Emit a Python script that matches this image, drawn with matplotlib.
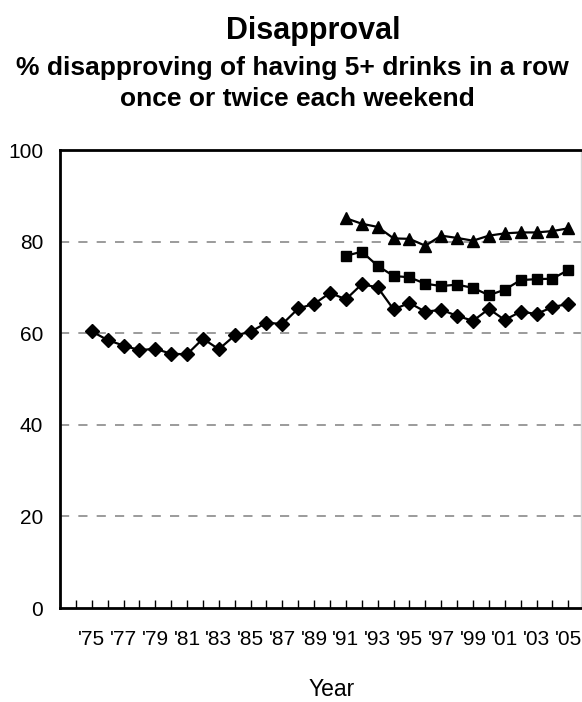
import matplotlib
matplotlib.use('Agg')
import matplotlib.pyplot as plt

plt.rcParams['font.family'] = ['Liberation Sans', 'DejaVu Sans']

years_all = list(range(1975, 2006))
years_late = list(range(1991, 2006))

# diamonds, 1975-2005
diamond_vals = [60.4, 58.5, 57.3, 56.3, 56.6, 55.5, 55.4, 58.8, 56.5, 59.5,
                60.3, 62.3, 62.0, 65.4, 66.4, 68.8, 67.4, 70.7, 70.0, 65.2,
                66.6, 64.7, 65.1, 63.8, 62.7, 65.3, 62.9, 64.7, 64.2, 65.7,
                66.4]
# squares, 1991-2005
square_vals = [76.9, 77.8, 74.7, 72.5, 72.2, 70.8, 70.3, 70.6, 69.9, 68.3,
               69.5, 71.6, 71.8, 71.9, 73.8]
# triangles, 1991-2005
triangle_vals = [85.1, 83.9, 83.2, 80.7, 80.6, 79.1, 81.3, 80.8, 80.2, 81.3,
                 81.8, 82.0, 82.0, 82.3, 82.9]

y_ticks = [0, 20, 40, 60, 80, 100]
label_years = list(range(1975, 2006, 2))

fig = plt.figure(figsize=(5.82, 7.02), dpi=100)
ax = fig.add_axes([60 / 582, 1 - 608 / 702, 521 / 582, (608 - 150) / 702])

for yv in [20, 40, 60, 80]:
    ax.axhline(yv, color='#808080', lw=1.1, ls=(0, (6, 6)), zorder=1)

ax.plot(years_all, diamond_vals, color='black', lw=1.6, marker='D', ms=7.5, zorder=3)
ax.plot(years_late, square_vals, color='black', lw=1.6, marker='s', ms=7.5, zorder=3)
ax.plot(years_late, triangle_vals, color='black', lw=1.6, marker='^', ms=8.5, zorder=3)

ax.set_xlim(1973, 2005.8)
ax.set_ylim(0, 100)
ax.set_yticks(y_ticks)
ax.set_yticklabels([str(v) for v in y_ticks], fontsize=15)
ax.tick_params(axis='y', length=0, pad=12)

ax.set_xticks(list(range(1974, 2006)))
ax.set_xticklabels(["'%02d" % (y % 100) if y in label_years else '' for y in range(1974, 2006)],
                   fontsize=15)
ax.tick_params(axis='x', direction='in', length=6, width=1, pad=16)

for s in ['left', 'bottom', 'top']:
    ax.spines[s].set_linewidth(2)
    ax.spines[s].set_color('black')
ax.spines['right'].set_color('#d8d8d8')
ax.spines['right'].set_linewidth(1)

fig.text(332 / 582, 1 - 696 / 702, 'Year', ha='center', va='baseline', fontsize=16.5)

fig.text(313 / 582, 1 - 39 / 702, 'Disapproval', ha='center', va='baseline',
         fontsize=22, fontweight='bold')
fig.text(292 / 582, 1 - 75 / 702, '% disapproving of having 5+ drinks in a row',
         ha='center', va='baseline', fontsize=19, fontweight='bold')
fig.text(297 / 582, 1 - 106 / 702, 'once or twice each weekend',
         ha='center', va='baseline', fontsize=19, fontweight='bold')

fig.savefig('out.png', dpi=100)
